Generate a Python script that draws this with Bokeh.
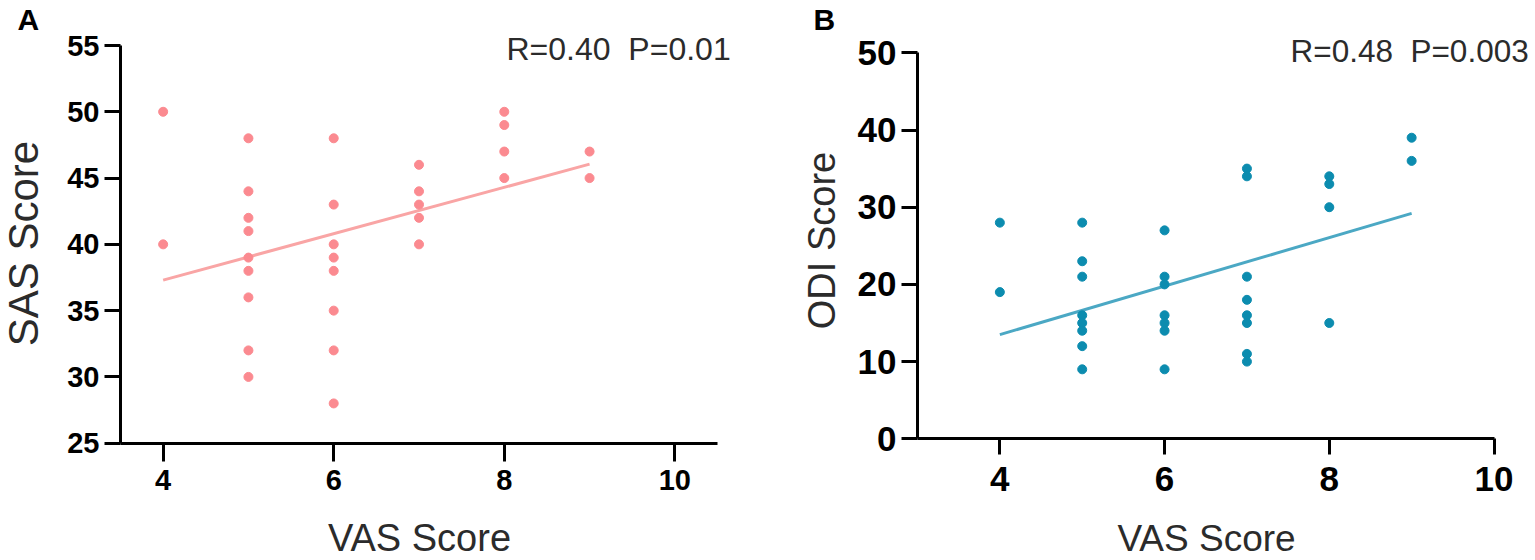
import math

from bokeh.embed import file_html
from bokeh.layouts import row
from bokeh.models import Label, Range1d
from bokeh.plotting import figure
from bokeh.resources import INLINE

# Panel A: SAS score against VAS score
sas_x = [4, 4,
         5, 5, 5, 5, 5, 5, 5, 5, 5,
         6, 6, 6, 6, 6, 6, 6, 6,
         7, 7, 7, 7, 7,
         8, 8, 8, 8,
         9, 9]
sas_y = [50, 40,
         48, 44, 42, 41, 39, 38, 36, 32, 30,
         48, 43, 40, 39, 38, 35, 32, 28,
         46, 44, 43, 42, 40,
         50, 49, 47, 45,
         47, 45]
sas_fit_x = [4, 9]
sas_fit_y = [37.3, 46.05]
sas_yticks = [25, 30, 35, 40, 45, 50, 55]

# Panel B: ODI score against VAS score
odi_x = [4, 4,
         5, 5, 5, 5, 5, 5, 5, 5,
         6, 6, 6, 6, 6, 6, 6,
         7, 7, 7, 7, 7, 7, 7, 7,
         8, 8, 8, 8,
         9, 9]
odi_y = [28, 19,
         28, 23, 21, 16, 15, 14, 12, 9,
         27, 21, 20, 16, 15, 14, 9,
         35, 34, 21, 18, 16, 15, 11, 10,
         34, 33, 30, 15,
         39, 36]
odi_fit_x = [4, 9]
odi_fit_y = [13.5, 29.2]
odi_yticks = [0, 10, 20, 30, 40, 50]

vas_ticks = [4, 6, 8, 10]

FONT = "Liberation Sans"
HEIGHT = 560


def make_panel(width, box, xlim, ylim, yticks, tick_size, standoffs, tick_len):
    # the frame fills the whole canvas so the texts round the axes are not clipped;
    # box is where the axes lie on the canvas, in pixels (left, right, top, bottom)
    left, right, top, bottom = box
    xs = (xlim[1] - xlim[0]) / (right - left)
    ys = (ylim[1] - ylim[0]) / (bottom - top)
    x_range = Range1d(xlim[0] - left * xs, xlim[1] + (width - right) * xs)
    y_range = Range1d(ylim[0] - (HEIGHT - bottom) * ys, ylim[1] + top * ys)
    p = figure(width=width, height=HEIGHT, x_range=x_range, y_range=y_range,
               output_backend="svg", toolbar_location=None,
               min_border_left=0, min_border_right=0,
               min_border_top=0, min_border_bottom=0)
    p.grid.visible = False
    p.outline_line_color = None
    p.background_fill_color = "white"

    p.xaxis.ticker = vas_ticks
    p.yaxis.ticker = yticks
    p.xaxis.bounds = xlim
    p.yaxis.bounds = ylim
    p.xaxis.fixed_location = ylim[0]
    p.yaxis.fixed_location = xlim[0]
    p.xaxis.major_label_standoff = standoffs[0]
    p.yaxis.major_label_standoff = standoffs[1]
    p.xaxis.major_tick_out = tick_len[0]
    p.yaxis.major_tick_out = tick_len[1]

    for ax in [p.xaxis[0], p.yaxis[0]]:
        ax.axis_line_width = 3
        ax.axis_line_color = "black"
        ax.major_tick_line_width = 3
        ax.major_tick_line_color = "black"
        ax.major_tick_in = 0
        ax.minor_tick_out = 0
        ax.minor_tick_in = 0
        ax.major_label_text_font = FONT
        ax.major_label_text_font_style = "bold"
        ax.major_label_text_font_size = tick_size
        ax.major_label_text_color = "black"
    return p


def add_text(p, x, y, text, size, bold=False, color="#2b2b2b", align="left", angle=0):
    p.add_layout(Label(x=x, y=y, x_units="canvas", y_units="canvas", text=text,
                       text_font=FONT, text_font_size=size, text_color=color,
                       text_font_style="bold" if bold else "normal",
                       text_align=align, text_baseline="middle", angle=angle))


# left panel
pa = make_panel(770, (120, 717, 45, 442.7), (3.5, 10.5), (25, 55),
                sas_yticks, "29px", (9, 5), (18, 16))
pa.line(sas_fit_x, sas_fit_y, line_color="#F9A5A5", line_width=3)
pa.scatter(sas_x, sas_y, size=9, color="#FB8A90")
add_text(pa, 17, 19, "A", "30px", bold=True, color="black")
add_text(pa, 506, 48, "R=0.40\u00a0\u00a0P=0.01", "32px")
add_text(pa, 23, 243, "SAS Score", "42px", align="center", angle=math.pi / 2)
add_text(pa, 419, 537, "VAS Score", "38px", align="center")

# right panel
pb = make_panel(765, (147, 723.5, 52.3, 438.3), (3, 10), (0, 50),
                odi_yticks, "35px", (12, 5), (16, 16))
pb.line(odi_fit_x, odi_fit_y, line_color="#4BA8C4", line_width=3)
pb.scatter(odi_x, odi_y, size=9, color="#0C8CAF")
add_text(pb, 43, 19, "B", "30px", bold=True, color="black")
add_text(pb, 520, 50, "R=0.48\u00a0\u00a0P=0.003", "31.5px")
add_text(pb, 51, 240, "ODI Score", "38px", align="center", angle=math.pi / 2)
add_text(pb, 436, 538, "VAS Score", "37px", align="center")

layout = row(pa, pb, spacing=0)
open("out.html", "w").write(file_html(layout, INLINE))
